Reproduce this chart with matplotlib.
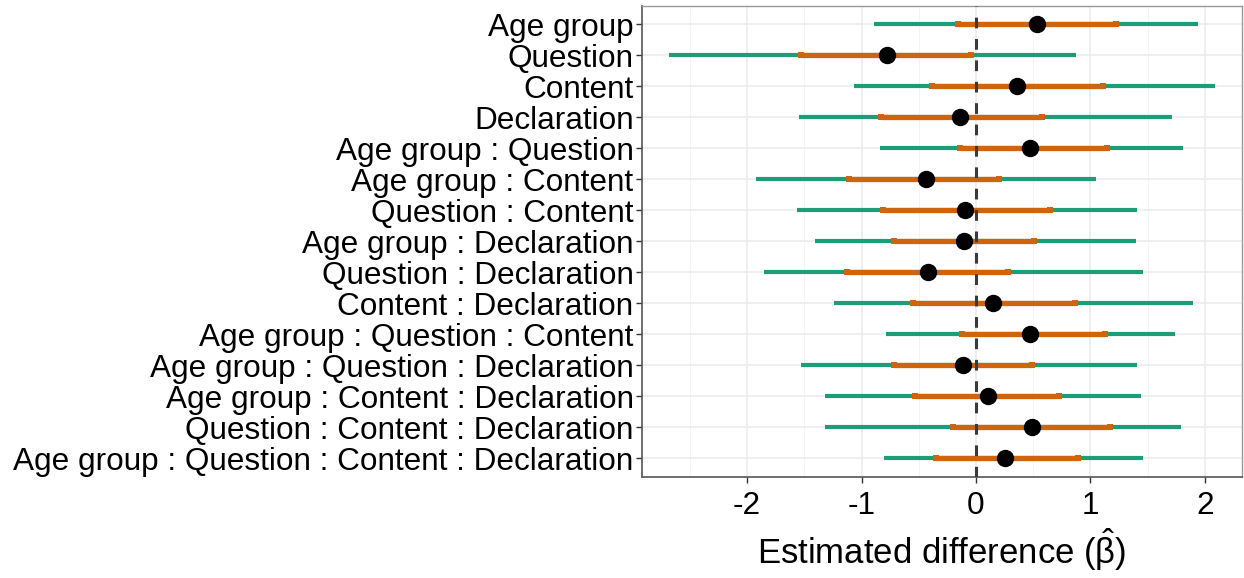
import matplotlib
matplotlib.use("Agg")
import matplotlib.pyplot as plt
import numpy as np

plt.rcParams['font.family'] = ['Liberation Sans', 'DejaVu Sans']
plt.rcParams['mathtext.fontset'] = 'custom'
plt.rcParams['mathtext.rm'] = 'Liberation Sans'
plt.rcParams['mathtext.it'] = 'Liberation Sans'

# data (top to bottom)
terms = ["Age group", "Question", "Content", "Declaration",
         "Age group : Question", "Age group : Content", "Question : Content",
         "Age group : Declaration", "Question : Declaration", "Content : Declaration",
         "Age group : Question : Content", "Age group : Question : Declaration",
         "Age group : Content : Declaration", "Question : Content : Declaration",
         "Age group : Question : Content : Declaration"]
estimate = [0.537, -0.776, 0.359, -0.137, 0.468, -0.438, -0.096, -0.109, -0.417,
            0.147, 0.475, -0.113, 0.106, 0.489, 0.256]
outer_lo = [-0.889, -2.684, -1.070, -1.549, -0.838, -1.925, -1.562, -1.405, -1.856,
            -1.244, -0.783, -1.528, -1.320, -1.323, -0.800]
outer_hi = [1.938, 0.872, 2.085, 1.716, 1.805, 1.050, 1.409, 1.402, 1.460,
            1.897, 1.737, 1.405, 1.443, 1.795, 1.463]
inner_lo = [-0.161, -1.532, -0.383, -0.831, -0.144, -1.111, -0.810, -0.721, -1.125,
            -0.550, -0.126, -0.721, -0.533, -0.205, -0.352]
inner_hi = [1.224, -0.044, 1.111, 0.574, 1.145, 0.198, 0.643, 0.509, 0.277,
            0.862, 1.128, 0.489, 0.728, 1.169, 0.889]

green = '#1B9E77'
orange = '#D0640C'

fig = plt.figure(figsize=(12.44, 5.78), dpi=100)
ax = fig.add_axes([0.516, 0.175, 0.482, 0.815])

n = len(terms)
y = np.arange(n, 0, -1)

ax.hlines(y, outer_lo, outer_hi, color=green, lw=3.0, zorder=3)
ax.hlines(y, inner_lo, inner_hi, color=orange, lw=3.8, zorder=4)
ax.plot(inner_lo, y, 's', color=orange, ms=4.5, mew=0, zorder=4)
ax.plot(inner_hi, y, 's', color=orange, ms=4.5, mew=0, zorder=4)
ax.axvline(0, color='#3A3A3A', lw=2.2, ls=(0, (3.5, 3.5)), zorder=5)
ax.plot(estimate, y, 'o', color='black', ms=11.5, zorder=6)

ax.set_xlim(-2.92, 2.32)
ax.set_ylim(0.4, n + 0.6)
ax.set_xticks([-2, -1, 0, 1, 2])
ax.set_xticklabels(['-2', '-1', '0', '1', '2'])
ax.set_xticks([-2.5, -1.5, -0.5, 0.5, 1.5], minor=True)
ax.set_yticks(y)
ax.set_yticklabels(terms)

ax.grid(True, which='major', color='#EBEBEB', lw=1.1, zorder=0)
ax.grid(True, which='minor', axis='x', color='#F2F2F2', lw=0.6, zorder=0)
ax.set_axisbelow(True)

ax.tick_params(axis='both', which='major', labelsize=22.7, length=4, width=1,
               color='#333333', labelcolor='black', pad=2)
ax.tick_params(axis='x', which='major', pad=6)
ax.tick_params(axis='x', which='minor', length=0)

for side in ['top', 'right']:
    ax.spines[side].set_color('#999999')
    ax.spines[side].set_linewidth(1.0)
for side in ['bottom', 'left']:
    ax.spines[side].set_color('#555555')
    ax.spines[side].set_linewidth(1.2)

ax.set_xlabel(r'Estimated difference ($\hat{\beta}$)', fontsize=25, labelpad=4)

fig.savefig('out.png', dpi=100)
